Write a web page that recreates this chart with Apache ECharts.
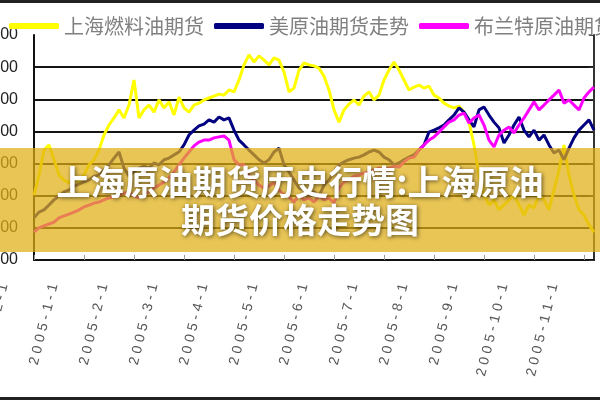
<!DOCTYPE html>
<html><head><meta charset="utf-8">
<script src="https://cdn.jsdelivr.net/npm/echarts@6/dist/echarts.min.js"></script>
<style>html,body{margin:0;padding:0;background:#fff}#c{width:600px;height:400px}</style>
</head><body><div id="c"></div>
<script>
const tickLabels = ['2004-12-1','2005-1-1','2005-2-1','2005-3-1','2005-4-1','2005-5-1','2005-6-1','2005-7-1','2005-8-1','2005-9-1','2005-10-1','2005-11-1'];
const seriesNames = ['上海燃料油期货','美原油期货走势','布兰特原油期货'];
const fuelOil = [
 2010,2320,2710,2790,2560,2320,2245,2200,2275,2215,
 2320,2480,2560,2710,2945,3100,3210,3335,3210,3410,
 3800,3210,3335,3410,3300,3490,3365,3460,3255,3535,
 3365,3300,3410,3440,3490,3520,3550,3580,3565,3645,
 3615,3800,4035,4190,4080,4175,4110,4035,4145,4110,
 3925,3615,3675,3955,4065,4035,4020,3985,3860,3645,
 3335,3145,3335,3425,3490,3410,3550,3615,3490,3565,
 3800,3955,4080,3955,3800,3645,3690,3720,3675,3705,
 3565,3520,3440,3395,3365,3395,3300,3145,2790,2320,
 2010,1855,1935,1780,1855,1935,2010,1855,1700,1855,
 1810,2010,1935,1780,2090,2400,2790,2320,2010,1780,
 1700,1545,1435];
const usCrude = [
 1655,1745,1780,1855,1935,1995,2060,2090,2150,2180,
 2215,2245,2305,2320,2400,2480,2585,2680,2430,2305,
 2370,2430,2460,2430,2510,2480,2560,2585,2635,2680,
 2790,2945,3020,3085,3115,3180,3145,3225,3180,3210,
 3020,2865,2790,2710,2635,2560,2510,2560,2680,2740,
 2480,2370,2245,2120,2090,2010,2060,1995,2165,2245,
 2370,2480,2525,2560,2585,2600,2635,2680,2710,2680,
 2600,2560,2480,2510,2560,2600,2635,2710,2790,2990,
 3020,3055,3100,3180,3255,3365,3300,3180,3070,3335,
 3380,3255,3145,3055,2820,2945,3100,3225,3020,2915,
 3020,2865,2945,2790,2665,2710,2560,2740,2900,3020,
 3100,3180,3020];
const brent = [
 1435,1500,1530,1560,1590,1655,1685,1715,1745,1780,
 1825,1855,1885,1900,1935,1965,1980,2010,2040,2060,
 1995,1965,2010,2060,2120,2165,2215,2275,2370,2480,
 2585,2680,2775,2835,2865,2865,2900,2915,2930,2865,
 2560,2480,2480,2320,2245,2165,2120,2150,2200,2090,
 2010,1980,1900,2010,1935,1965,1900,1995,1935,1965,
 1885,2120,2215,2245,2305,2320,2355,2370,2400,2430,
 2400,2430,2460,2445,2525,2585,2600,2710,2790,2865,
 2915,2990,3070,3145,3180,3255,3285,3130,3210,3255,
 3100,2865,2760,2945,3020,3070,2975,3100,3210,3335,
 3460,3335,3410,3490,3565,3645,3440,3490,3410,3335,
 3520,3615,3690];
const yMin = 1000, yMax = 4500, yStep = 500;
const categories = fuelOil.map((_, i) => String(i));

const chart = echarts.init(document.getElementById('c'));
const gridColors = ['#151515','#151515','#151515','#151515','#151515','#151515','#151515','rgba(0,0,0,0)'];
chart.setOption({
  animation: false,
  backgroundColor: '#fff',
  title: {
    text: '上海原油期货历史行情:上海原油\n期货价格走势图',
    left: 'center', top: 158, z: 200,
    textStyle: {fontSize: 34, fontWeight: 'bold', color: '#fff', fontFamily: 'Noto Sans CJK SC',
      lineHeight: 38, textShadowColor: 'rgba(0,0,0,0.6)', textShadowBlur: 4, textShadowOffsetX: 1, textShadowOffsetY: 1}
  },
  legend: {
    left: 4, top: 11, width: 1000, itemWidth: 50, itemHeight: 6, itemGap: 10, icon: 'roundRect',
    textStyle: {fontSize: 20, color: '#808080', fontFamily: 'Noto Sans CJK SC'},
    data: seriesNames
  },
  grid: [
    {left: 34, right: 6, top: 35, bottom: 140, containLabel: false, outerBoundsMode: 'none'},
    {left: 4, right: 36, top: 35, bottom: 140, containLabel: false, outerBoundsMode: 'none'}
  ],
  xAxis: [
    {type: 'category', gridIndex: 0, data: categories, boundaryGap: false,
     axisLine: {lineStyle: {color: '#111', width: 2}},
     axisTick: {inside: true, length: 5, interval: 9, lineStyle: {color: '#999'}},
     axisLabel: {show: false}, splitLine: {show: false}},
    {type: 'category', gridIndex: 1, data: categories, boundaryGap: false,
     axisLine: {show: false}, axisTick: {show: false},
     axisLabel: {interval: function (i) { return i % 10 === 0; }, rotate: 76, margin: 24, fontSize: 14, color: '#555', fontFamily: 'Liberation Sans',
       formatter: function (v) { const t = tickLabels[Math.round(Number(v) / 10)]; return t ? t.split('').join(' ') : ''; }}}
  ],
  yAxis: [
    {type: 'value', gridIndex: 0, min: yMin, max: yMax, interval: yStep, position: 'left',
     axisLine: {show: true, lineStyle: {color: '#111', width: 2}}, axisTick: {show: false},
     axisLabel: {margin: 16, fontSize: 16, color: '#222', fontFamily: 'Liberation Sans', formatter: v => String(v)},
     splitLine: {show: true, lineStyle: {color: gridColors, width: 2}}},
    {type: 'value', gridIndex: 0, min: yMin, max: yMax, interval: yStep, position: 'right',
     axisLine: {show: true, lineStyle: {color: '#333', width: 2}},
     axisTick: {show: true, inside: true, length: 5, lineStyle: {color: '#333'}},
     axisLabel: {show: false}, splitLine: {show: false}},
    {type: 'value', gridIndex: 1, show: false}
  ],
  series: [
    {name: seriesNames[0], type: 'line', data: fuelOil, showSymbol: false, xAxisIndex: 0, yAxisIndex: 0,
     itemStyle: {color: '#ffff00'}, lineStyle: {color: '#ffff00', width: 3}},
    {name: seriesNames[1], type: 'line', data: usCrude, showSymbol: false, xAxisIndex: 0, yAxisIndex: 0,
     itemStyle: {color: '#000080'}, lineStyle: {color: '#000080', width: 3}},
    {name: seriesNames[2], type: 'line', data: brent, showSymbol: false, xAxisIndex: 0, yAxisIndex: 0,
     itemStyle: {color: '#ff00ff'}, lineStyle: {color: '#ff00ff', width: 3}}
  ],
  graphic: [
    {type: 'rect', z: 100, shape: {x: 0, y: 148, width: 600, height: 104}, style: {fill: 'rgba(225,175,20,0.72)'}},
    {type: 'rect', z: 100, shape: {x: 0, y: 0, width: 600, height: 3}, style: {fill: '#222'}},
    {type: 'rect', z: 100, shape: {x: 0, y: 397, width: 600, height: 3}, style: {fill: '#222'}}
  ]
});
</script></body></html>
